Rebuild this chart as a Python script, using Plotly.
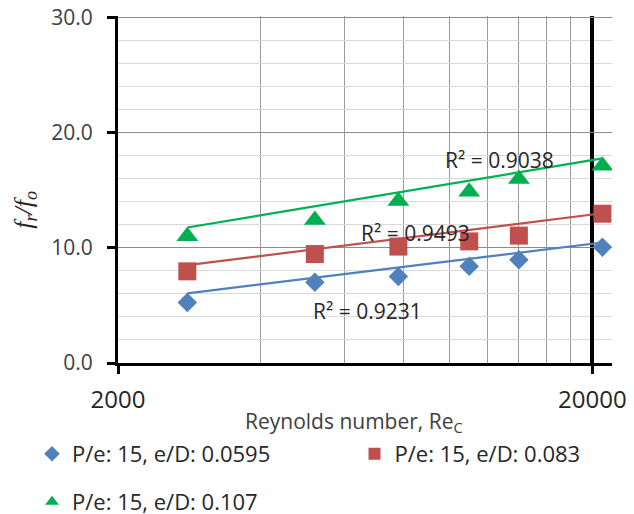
import numpy as np
import plotly.graph_objects as go

# ---- data ----
reynolds = [2800, 5200, 7800, 11000, 14000, 21000]
ratio_ed_0595 = [5.25, 7.0, 7.5, 8.4, 8.95, 10.05]
ratio_ed_083 = [7.95, 9.45, 10.1, 10.55, 11.05, 12.95]
ratio_ed_107 = [11.0, 12.4, 14.05, 14.85, 15.95, 17.1]

series_names = ["P/e: 15, e/D: 0.0595", "P/e: 15, e/D: 0.083", "P/e: 15, e/D: 0.107"]
r2_labels = ["R² = 0.9231", "R² = 0.9493", "R² = 0.9038"]

x_tick_vals = [2000, 20000]
x_tick_text = ["2000", "20000"]
x_minor_vals = [4000, 6000, 8000, 10000, 12000, 14000, 16000, 18000, 20000, 22000]
y_tick_vals = [0, 10, 20, 30]

# ---- styling ----
W, H = 626, 506  # page body has an 8px margin inside the 634x514 window
colors = ["#4F81BD", "#C0504D", "#00B050"]
symbols = ["diamond", "square", "triangle-up"]
sizes = [15, 18, 19]
legends = ["legend", "legend2", "legend3"]
legend_pos = [(24 / W, 1 - 425 / H), (346.5 / W, 1 - 425 / H), (24 / W, 1 - 473 / H)]
r2_pos = [(6728, 4.5), (8466, 11.25), (12730, 17.6)]
FONT = "Open Sans"

fig = go.Figure()
all_series = [ratio_ed_0595, ratio_ed_083, ratio_ed_107]
for i, ys in enumerate(all_series):
    fig.add_trace(go.Scatter(
        x=reynolds, y=ys, mode="markers", name=series_names[i],
        marker=dict(symbol=symbols[i], size=sizes[i], color=colors[i], line=dict(width=0)),
        legend=legends[i], showlegend=True,
    ))
    # linear trendline (as Excel draws it: straight segment between end values)
    m, b = np.polyfit(np.array(reynolds, float), np.array(ys, float), 1)
    xe = np.array([min(reynolds), max(reynolds)], float)
    fig.add_trace(go.Scatter(
        x=xe, y=m * xe + b, mode="lines", line=dict(color=colors[i], width=2.2),
        showlegend=False, hoverinfo="skip",
    ))

for i, (xa, ya) in enumerate(r2_pos):
    fig.add_annotation(x=np.log10(xa), y=ya, xref="x", yref="y", text=r2_labels[i],
                       showarrow=False, font=dict(family=FONT, size=21, color="#262626"),
                       xanchor="center", yanchor="middle")

# axis titles
fig.add_annotation(x=0.478, y=-0.1705, xref="paper", yref="paper",
                   text="Reynolds number, Re<sub>C</sub>", showarrow=False,
                   font=dict(family=FONT, size=21, color="#404040"),
                   xanchor="center", yanchor="middle")
fig.add_annotation(x=-0.19, y=0.442, xref="paper", yref="paper",
                   text="<i>f<sub>r</sub>/f<sub>o</sub></i>", showarrow=False, textangle=-90,
                   font=dict(family="Liberation Serif", size=26, color="#262626"),
                   xanchor="center", yanchor="middle")

fig.update_xaxes(
    type="log", range=[np.log10(2000) - 1e-6, np.log10(22000) + 1e-6],
    tickmode="array", tickvals=x_tick_vals, ticktext=x_tick_text,
    ticks="outside", ticklen=8, tickwidth=3, tickcolor="black",
    showline=True, linecolor="black", linewidth=3,
    showgrid=True, gridcolor="black", gridwidth=3.5,
    minor=dict(tickmode="array", tickvals=x_minor_vals, showgrid=True,
               gridcolor="#9a9a9a", gridwidth=1, ticks=""),
    tickfont=dict(family=FONT, size=24, color="#262626"),
    ticklabelstandoff=5, ticklabeloverflow="allow", zeroline=False, automargin=False,
)
fig.update_yaxes(
    range=[0, 30.1], tickmode="array", tickvals=y_tick_vals, tickformat=".1f",
    ticks="outside", ticklen=8, tickwidth=3, tickcolor="black",
    showline=True, linecolor="black", linewidth=3,
    showgrid=True, gridcolor="#8c8c8c", gridwidth=1,
    minor=dict(dtick=2, showgrid=True, gridcolor="#d9d9d9", gridwidth=1, ticks=""),
    tickfont=dict(family=FONT, size=21, color="#404040"),
    ticklabelstandoff=10, ticklabeloverflow="allow", zeroline=False, automargin=False,
)

legend_common = dict(orientation="h", font=dict(family=FONT, size=22, color="#262626"),
                     itemsizing="constant", bgcolor="rgba(0,0,0,0)",
                     xref="container", yref="container",
                     xanchor="left", yanchor="top")
layout_legends = {}
for name, (lx, ly) in zip(legends, legend_pos):
    layout_legends[name] = dict(x=lx, y=ly, **legend_common)

fig.update_layout(
    width=W, height=H,
    margin=dict(l=110, r=22, t=8, b=151),
    plot_bgcolor="white", paper_bgcolor="white",
    hovermode=False,
    **layout_legends,
)

fig.write_html("out.html")
